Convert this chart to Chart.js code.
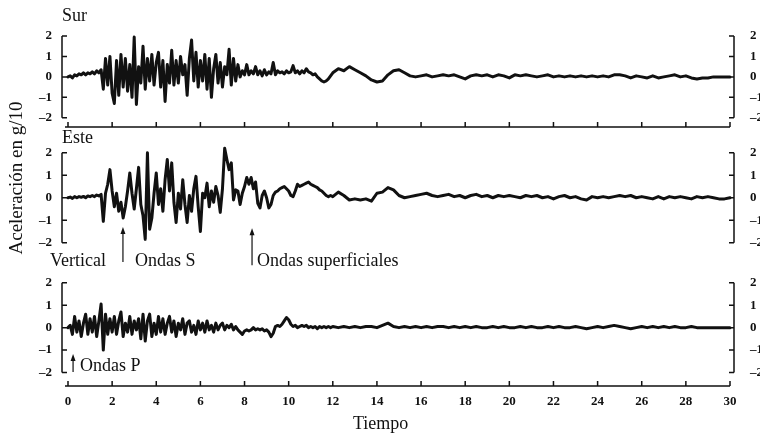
<!DOCTYPE html>
<html>
<head>
<meta charset="utf-8">
<script src="https://cdn.jsdelivr.net/npm/chart.js@4.4.1/dist/chart.umd.min.js"></script>
<style>
    body { margin: 0; background: #fff; }
    #lienzo { position: relative; width: 760px; height: 438px; overflow: hidden; font-family: "Liberation Serif", serif; color: #111; }
    #lienzo canvas { position: absolute; left: 0; top: 0; }
    .txt { position: absolute; font-size: 18px; line-height: 1; white-space: nowrap; }
    #tituloY { left: 15px; top: 178px; font-size: 19px; transform: translate(-50%, -50%) rotate(-90deg); }
</style>
</head>
<body>
<div id="lienzo">
    <canvas id="panelSur" width="760" height="438"></canvas>
    <canvas id="panelEste" width="760" height="438"></canvas>
    <canvas id="panelVertical" width="760" height="438"></canvas>
    <div class="txt" style="left:62px; top:6px;">Sur</div>
    <div class="txt" style="left:62px; top:128px;">Este</div>
    <div class="txt" style="left:50px; top:251px;">Vertical</div>
    <div class="txt" style="left:135px; top:251px;">Ondas S</div>
    <div class="txt" style="left:257px; top:251px;">Ondas superficiales</div>
    <div class="txt" style="left:80px; top:356px;">Ondas P</div>
    <div class="txt" style="left:353px; top:414px;">Tiempo</div>
    <div class="txt" id="tituloY">Aceleración en g/10</div>
</div>
<script>
// Sismograma: tres componentes (Sur, Este, Vertical), aceleración en g/10
const xTicks = [0, 2, 4, 6, 8, 10, 12, 14, 16, 18, 20, 22, 24, 26, 28, 30];
const yTicks = [-2, -1, 0, 1, 2];

// muestras cada 0.1 s hasta 12 s, luego cada 0.25 s
const tiempo = [
    0, 0.1, 0.2, 0.3, 0.4, 0.5, 0.6, 0.7, 0.8, 0.9,
    1, 1.1, 1.2, 1.3, 1.4, 1.5, 1.6, 1.7, 1.8, 1.9,
    2, 2.1, 2.2, 2.3, 2.4, 2.5, 2.6, 2.7, 2.8, 2.9,
    3, 3.1, 3.2, 3.3, 3.4, 3.5, 3.6, 3.7, 3.8, 3.9,
    4, 4.1, 4.2, 4.3, 4.4, 4.5, 4.6, 4.7, 4.8, 4.9,
    5, 5.1, 5.2, 5.3, 5.4, 5.5, 5.6, 5.7, 5.8, 5.9,
    6, 6.1, 6.2, 6.3, 6.4, 6.5, 6.6, 6.7, 6.8, 6.9,
    7, 7.1, 7.2, 7.3, 7.4, 7.5, 7.6, 7.7, 7.8, 7.9,
    8, 8.1, 8.2, 8.3, 8.4, 8.5, 8.6, 8.7, 8.8, 8.9,
    9, 9.1, 9.2, 9.3, 9.4, 9.5, 9.6, 9.7, 9.8, 9.9,
    10, 10.1, 10.2, 10.3, 10.4, 10.5, 10.6, 10.7, 10.8, 10.9,
    11, 11.1, 11.2, 11.3, 11.4, 11.5, 11.6, 11.7, 11.8, 11.9,
    12,
    12.25, 12.5, 12.75, 13,
    13.25, 13.5, 13.75, 14,
    14.25, 14.5, 14.75, 15,
    15.25, 15.5, 15.75, 16,
    16.25, 16.5, 16.75, 17,
    17.25, 17.5, 17.75, 18,
    18.25, 18.5, 18.75, 19,
    19.25, 19.5, 19.75, 20,
    20.25, 20.5, 20.75, 21,
    21.25, 21.5, 21.75, 22,
    22.25, 22.5, 22.75, 23,
    23.25, 23.5, 23.75, 24,
    24.25, 24.5, 24.75, 25,
    25.25, 25.5, 25.75, 26,
    26.25, 26.5, 26.75, 27,
    27.25, 27.5, 27.75, 28,
    28.25, 28.5, 28.75, 29,
    29.25, 29.5, 29.75, 30
];

const sur = [
    0.0, 0.05, -0.05, 0.1, 0.05, 0.15, 0.1, 0.2, 0.1, 0.2,
    0.15, 0.25, 0.15, 0.3, 0.2, 0.35, -0.6, 0.9, -0.4, 1.0,
    -0.8, -1.3, 0.8, -0.9, 1.1, -0.5, 0.9, -0.7, 0.6, -1.0,
    1.95, -1.35, 0.5, -0.3, 1.5, -0.6, 0.9, -0.2, 1.1, -0.4,
    0.7, 1.2, -0.5, 0.8, -1.2, 0.6, -0.3, 1.3, -0.4, 0.8,
    -0.3, 1.0, 0.1, 0.6, -0.9, 0.9, 1.8, -0.2, 1.2, -0.5,
    0.8, -0.2, 1.1, -0.6, 0.9, -1.0, 0.4, 1.1, -0.3, 0.7,
    -0.5, 0.5, 0.1, 1.35, -0.4, 0.9, -0.2, 0.6, 0.0, 0.3,
    0.1, 0.6, 0.1, 0.3, 0.15, 0.5, 0.1, 0.3, 0.05, 0.35,
    0.1, 0.25, 0.15, 0.7, 0.1, 0.3, 0.2, 0.25, 0.15, 0.3,
    0.2, 0.25, 0.55, 0.2, 0.3, 0.15, 0.3, 0.2, 0.4, 0.25,
    0.2, 0.1, 0.15, 0.0, -0.1, -0.2, -0.25, -0.2, -0.1, 0.05,
    0.2,
    0.4, 0.3, 0.5, 0.35,
    0.2, 0.05, -0.15, -0.25,
    -0.2, 0.1, 0.3, 0.35,
    0.2, 0.05, 0.0, 0.05,
    0.1, 0.0, 0.05, 0.1,
    0.05, 0.1, 0.0, -0.1,
    0.05, 0.1, 0.05, 0.1,
    0.0, 0.1, 0.05, -0.05,
    0.1, 0.05, 0.1, 0.05,
    0.0, 0.05, 0.1, 0.0,
    0.05, 0.0, 0.05, 0.0,
    0.05, 0.0, 0.05, 0.0,
    0.05, 0.0, 0.1, 0.1,
    0.05, -0.05, 0.05, 0.0,
    -0.05, 0.05, -0.05, 0.0,
    0.05, 0.1, 0.0, 0.05,
    -0.05, -0.1, -0.05, -0.05,
    0.0, 0.0, 0.0, 0.0
];

const este = [
    0.0, 0.03, -0.03, 0.05, 0.0, 0.05, 0.02, 0.06, 0.0, 0.08,
    0.05, 0.1, 0.05, 0.12, 0.08, 0.15, -1.05, 0.2, 0.6, 1.25,
    0.3, -0.4, 0.2, -0.6, -0.2, -0.9, -0.4, 0.3, 1.1, 0.2,
    -0.5, 0.4, 1.35, -0.3, -0.8, -1.85, 2.0, -1.4, -0.9, 0.2,
    1.1, -0.3, 0.4, -0.6, 0.8, 1.7, 0.3, 1.55, -0.2, -1.1,
    0.2, -0.5, 0.8, -0.3, -1.1, 0.1, -0.6, 0.4, 0.95, -0.4,
    -1.5, 0.2, 0.0, 0.65, -0.4, 0.3, -0.2, 0.5, 0.1, -0.65,
    0.4, 2.2, 1.7, 1.25, 1.55, -0.1, 0.35, 0.3, -0.3, 0.2,
    0.5, 0.9, 0.6, 0.9, 0.4, 0.7, -0.25, -0.45, 0.1, 0.3,
    0.0, -0.45, -0.3, 0.1, 0.25, 0.3, 0.4, 0.45, 0.5, 0.4,
    0.3, 0.1, 0.05, 0.3, 0.6, 0.5, 0.55, 0.6, 0.65, 0.7,
    0.6, 0.55, 0.5, 0.45, 0.35, 0.3, 0.2, 0.1, 0.05, 0.1,
    0.05,
    0.25, 0.1, -0.1, -0.05,
    -0.1, -0.05, -0.15, 0.2,
    0.25, 0.45, 0.35, 0.1,
    0.0, 0.05, 0.1, 0.15,
    0.2, 0.1, 0.05, 0.1,
    0.15, 0.05, 0.1, 0.0,
    0.1, 0.15, 0.05, 0.1,
    0.0, 0.1, 0.05, 0.1,
    0.05, 0.0, 0.1, 0.05,
    0.1, 0.0, 0.05, -0.05,
    0.05, 0.1, 0.0, 0.05,
    -0.05, -0.1, 0.05, 0.0,
    0.05, 0.0, 0.05, 0.1,
    0.05, 0.1, 0.0, 0.05,
    0.0, -0.05, 0.05, -0.05,
    0.05, 0.0, 0.05, 0.0,
    -0.05, 0.05, 0.0, 0.05,
    0.0, -0.05, -0.05, 0.0
];

const vertical = [
    0.0, 0.1, -0.3, 0.5, -0.2, 0.3, -0.4, 0.2, 0.6, -0.3,
    0.4, -0.2, 0.5, -0.4, 0.3, 1.05, -1.0, 0.6, -0.3, 0.4,
    -0.2, 0.5, -0.3, 0.3, 0.7, -0.4, 0.2, -0.2, 0.5, -0.3,
    0.3, -0.1, 0.4, -0.5, 0.6, -0.6, 0.3, 0.6, -0.4, 0.2,
    -0.3, 0.5, -0.2, 0.4, -0.3, 0.2, 0.5, -0.2, 0.3, -0.4,
    0.2, -0.1, 0.4, -0.3, 0.2, 0.3, -0.2, 0.1, -0.3, 0.3,
    -0.1, 0.2, -0.2, 0.3, -0.1, 0.1, -0.2, 0.2, -0.1, 0.1,
    0.2, -0.1, 0.1, 0.0, 0.15, -0.1, 0.05, -0.1, -0.2, -0.3,
    -0.15, -0.1, -0.15, -0.1, 0.0, -0.1, -0.05, -0.1, -0.05, -0.15,
    -0.1, -0.2, -0.4, -0.25, 0.05, 0.1, 0.05, 0.15, 0.3, 0.45,
    0.35, 0.15, 0.05, 0.1, 0.0, 0.05, 0.1, 0.05, 0.1, 0.0,
    0.05, 0.0, 0.05, -0.05, 0.05, 0.0, 0.05, 0.0, 0.05, 0.0,
    0.05,
    0.0, 0.05, 0.0, 0.05,
    0.0, 0.05, 0.05, 0.0,
    0.1, 0.2, 0.05, 0.0,
    0.05, 0.0, 0.05, 0.0,
    0.05, 0.0, 0.05, 0.05,
    0.0, 0.05, 0.0, 0.05,
    0.0, 0.05, 0.0, 0.0,
    0.05, 0.0, 0.05, 0.0,
    0.0, 0.05, 0.0, 0.05,
    0.0, 0.0, 0.05, 0.0,
    0.05, 0.0, 0.0, 0.05,
    0.0, -0.05, 0.0, 0.05,
    0.0, 0.05, 0.1, 0.05,
    0.0, -0.05, 0.0, 0.05,
    0.0, 0.05, 0.0, 0.05,
    0.0, 0.05, 0.0, 0.0,
    0.05, 0.0, 0.0, 0.0,
    0.0, 0.0, 0.0, 0.0
];

Chart.defaults.font.family = '"Liberation Serif", "DejaVu Serif", serif';
Chart.defaults.color = '#111';

// corchetes de los ejes, eje de tiempo y flechas de las ondas
const marcoPlugin = {
    id: 'marco',
    afterDraw(chart, args, opts) {
        const { ctx, chartArea: a, scales: { x, y } } = chart;
        const lx = a.left - 6;
        const rx = a.right + 4;
        const yTop = y.getPixelForValue(2);
        const yBot = y.getPixelForValue(-2);

        ctx.save();
        ctx.strokeStyle = '#111';
        ctx.lineWidth = 1.5;
        ctx.beginPath();
        ctx.moveTo(lx, yTop); ctx.lineTo(lx, yBot);
        ctx.moveTo(rx, yTop); ctx.lineTo(rx, yBot);
        yTicks.forEach(v => {
            const p = y.getPixelForValue(v);
            ctx.moveTo(lx, p); ctx.lineTo(lx + 5, p);
            ctx.moveTo(rx, p); ctx.lineTo(rx - 5, p);
        });
        if (opts.ejeInferior) {
            ctx.moveTo(lx + 3, a.bottom); ctx.lineTo(a.right, a.bottom);
            xTicks.forEach(t => {
                const p = x.getPixelForValue(t);
                ctx.moveTo(p, a.bottom); ctx.lineTo(p, a.bottom - 5);
            });
        }
        ctx.stroke();

        (opts.flechas || []).forEach(f => {
            const px = x.getPixelForValue(f.t);
            const top = y.getPixelForValue(f.desde);
            const bot = y.getPixelForValue(f.hasta);
            ctx.lineWidth = 1.2;
            ctx.beginPath();
            ctx.moveTo(px, top + 5); ctx.lineTo(px, bot);
            ctx.stroke();
            ctx.beginPath();
            ctx.moveTo(px, top); ctx.lineTo(px - 2.5, top + 7); ctx.lineTo(px + 2.5, top + 7);
            ctx.closePath();
            ctx.fillStyle = '#111';
            ctx.fill();
        });
        ctx.restore();
    }
};

function formatoY(v) {
    return v < 0 ? '\u2013' + Math.abs(v) : String(v);
}

function crearPanel(id, serie, cfg) {
    const ejeY = (pos, ancho, pad) => ({
        position: pos,
        min: cfg.yMin,
        max: cfg.yMax,
        grid: { display: false, drawTicks: false },
        border: { display: false },
        afterBuildTicks: s => { s.ticks = yTicks.map(v => ({ value: v })); },
        afterFit: s => { s.width = ancho; },
        ticks: { padding: pad, autoSkip: false, font: { size: 13, weight: 'bold' }, callback: formatoY }
    });

    return new Chart(document.getElementById(id), {
        type: 'line',
        data: {
            datasets: [{
                data: tiempo.map((t, i) => ({ x: t, y: serie[i] })),
                borderColor: '#111',
                borderWidth: 3,
                borderJoinStyle: 'round',
                borderCapStyle: 'round',
                pointRadius: 0,
                tension: 0,
                clip: false
            }]
        },
        options: {
            responsive: false,
            animation: false,
            layout: { padding: { top: cfg.top, bottom: cfg.bottom, left: 0, right: 0 } },
            plugins: {
                legend: { display: false },
                tooltip: { enabled: false },
                marco: { ejeInferior: cfg.ejeInferior, flechas: cfg.flechas }
            },
            scales: {
                x: {
                    type: 'linear',
                    min: 0,
                    max: 30,
                    display: cfg.etiquetasX,
                    grid: { display: false, drawTicks: false },
                    border: { display: false },
                    afterBuildTicks: s => { s.ticks = xTicks.map(v => ({ value: v })); },
                    afterFit: s => { s.height = cfg.etiquetasX ? 30 : 0; },
                    ticks: { padding: 8, autoSkip: false, maxRotation: 0, font: { size: 13, weight: 'bold' } }
                },
                y: ejeY('left', 68, 16),
                y2: ejeY('right', 30, 20)
            }
        },
        plugins: [marcoPlugin]
    });
}

crearPanel('panelSur', sur, {
    top: 20, bottom: 311, yMin: -2.45, yMax: 2.4,
    ejeInferior: true, etiquetasX: false, flechas: []
});

crearPanel('panelEste', este, {
    top: 146, bottom: 193, yMin: -2.1, yMax: 2.3,
    ejeInferior: false, etiquetasX: false,
    flechas: [
        { t: 2.49, desde: -1.3, hasta: -2.86 },
        { t: 8.34, desde: -1.35, hasta: -3.0 }
    ]
});

crearPanel('panelVertical', vertical, {
    top: 276, bottom: 22, yMin: -2.6, yMax: 2.3,
    ejeInferior: true, etiquetasX: true,
    flechas: [{ t: 0.23, desde: -1.18, hasta: -1.98 }]
});
</script>
</body>
</html>
